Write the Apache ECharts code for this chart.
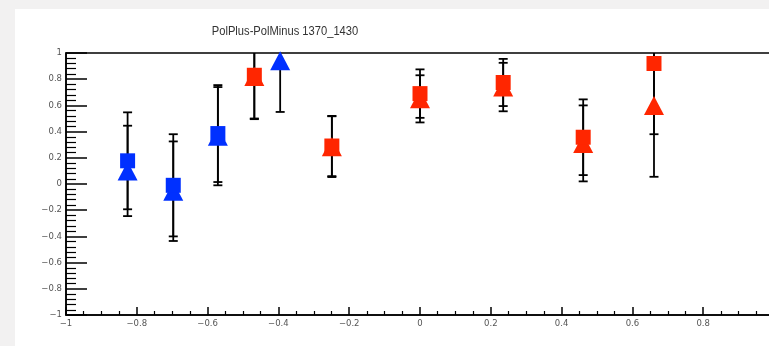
<!DOCTYPE html>
<html>
<head>
<meta charset="utf-8">
<script src="https://cdn.jsdelivr.net/npm/echarts@6/dist/echarts.min.js"></script>
<style>
  html, body { margin: 0; padding: 0; background: #f2f1f1; }
  #chart { width: 769px; height: 346px; }
</style>
</head>
<body>
<div id="chart"></div>
<script>
// Asymmetry per bin, two measurements (squares / triangles), two groups (blue / red)
const blueSquareX = [-0.826, -0.697, -0.571];
const blueSquareY = [0.177, -0.01, 0.385];
const blueSquareErr = [0.37, 0.39, 0.37];

const blueTriangleX = [-0.826, -0.697, -0.571, -0.395];
const blueTriangleY = [0.10, -0.055, 0.365, 0.94];
const blueTriangleErr = [0.345, 0.38, 0.375, 0.39];

const redX = [-0.468, -0.249, 0.0, 0.235, 0.461, 0.661];
const redSquareY = [0.83, 0.29, 0.69, 0.775, 0.357, 0.92];
const redSquareErr = [0.33, 0.23, 0.185, 0.18, 0.289, 0.54];
const redTriangleY = [0.82, 0.285, 0.65, 0.74, 0.31, 0.60];
const redTriangleErr = [0.325, 0.232, 0.18, 0.185, 0.29, 0.545];

const titleText = 'PolPlus-PolMinus 1370_1430';
const axisMin = -1, axisMax = 1, axisStep = 0.2;

const BLUE = '#0030ff';
const RED = '#ff2600';

function points(xs, ys) { return xs.map((x, i) => [x, ys[i]]); }
function bars(xs, ys, es) { return xs.map((x, i) => [x, ys[i] - es[i], ys[i] + es[i]]); }

const allBars = [].concat(
  bars(blueSquareX, blueSquareY, blueSquareErr),
  bars(blueTriangleX, blueTriangleY, blueTriangleErr),
  bars(redX, redSquareY, redSquareErr),
  bars(redX, redTriangleY, redTriangleErr)
);

function fmt(v) {
  const r = Math.round(v * 10) / 10;
  if (r === 0) return '0';
  return (r < 0 ? '\u2212' : '') + String(Math.abs(r));
}

function renderErrorBar(params, api) {
  const x = api.value(0);
  const lo = api.value(1), hi = api.value(2);
  const loC = Math.max(lo, axisMin), hiC = Math.min(hi, axisMax);
  const pLo = api.coord([x, loC]);
  const pHi = api.coord([x, hiC]);
  const half = 4.5;
  const style = { stroke: '#000', lineWidth: 1.8, fill: null };
  const children = [{ type: 'line', shape: { x1: pLo[0], y1: pLo[1], x2: pHi[0], y2: pHi[1] }, style }];
  if (lo >= axisMin) children.push({ type: 'line', shape: { x1: pLo[0] - half, y1: pLo[1], x2: pLo[0] + half, y2: pLo[1] }, style });
  if (hi <= axisMax) children.push({ type: 'line', shape: { x1: pHi[0] - half, y1: pHi[1], x2: pHi[0] + half, y2: pHi[1] }, style });
  return { type: 'group', children };
}

const chart = echarts.init(document.getElementById('chart'), null, { renderer: 'canvas' });

const labelStyle = { color: '#555', fontSize: 8.5, fontFamily: 'DejaVu Sans' };

chart.setOption({
  animation: false,
  backgroundColor: '#f2f1f1',
  graphic: [
    { type: 'rect', z: -10, shape: { x: 15, y: 9, width: 760, height: 340 }, style: { fill: '#ffffff' } },
    {
      type: 'text', x: 285, y: 32, scaleX: 0.93, z: 10,
      style: {
        text: titleText, font: '12px "Liberation Sans", Arial, sans-serif',
        fill: '#333', textAlign: 'center', textVerticalAlign: 'middle'
      }
    }
  ],
  grid: {
    left: 66, top: 53, width: 708, height: 262,
    outerBoundsMode: 'none', containLabel: false,
    show: true, borderColor: '#000', borderWidth: 1.5, backgroundColor: 'transparent'
  },
  xAxis: {
    type: 'value', min: axisMin, max: axisMax, interval: axisStep,
    axisLine: { show: true, onZero: false, lineStyle: { color: '#000', width: 1.5 } },
    axisTick: { show: true, inside: true, length: 8, lineStyle: { color: '#000', width: 1.5 } },
    minorTick: { show: true, splitNumber: 4, length: 4, lineStyle: { color: '#000', width: 1.2 } },
    splitLine: { show: false },
    axisLabel: Object.assign({ margin: 4, formatter: fmt }, labelStyle)
  },
  yAxis: {
    type: 'value', min: axisMin, max: axisMax, interval: axisStep,
    axisLine: { show: true, onZero: false, lineStyle: { color: '#000', width: 1.5 } },
    axisTick: { show: true, inside: true, length: 21, lineStyle: { color: '#000', width: 1.5 } },
    minorTick: { show: true, splitNumber: 5, length: 10, lineStyle: { color: '#000', width: 1.2 } },
    splitLine: { show: false },
    axisLabel: Object.assign({ margin: 4, formatter: fmt }, labelStyle)
  },
  series: [
    {
      type: 'custom', name: 'errors', z: 2, clip: true,
      renderItem: renderErrorBar, data: allBars
    },
    {
      type: 'scatter', name: 'blue triangles', z: 3, clip: true,
      symbol: 'triangle', symbolSize: [20, 19],
      itemStyle: { color: BLUE, opacity: 1 },
      data: points(blueTriangleX, blueTriangleY)
    },
    {
      type: 'scatter', name: 'red triangles', z: 3, clip: true,
      symbol: 'triangle', symbolSize: [20, 19],
      itemStyle: { color: RED, opacity: 1 },
      data: points(redX, redTriangleY)
    },
    {
      type: 'scatter', name: 'blue squares', z: 4, clip: true,
      symbol: 'rect', symbolSize: 15,
      itemStyle: { color: BLUE, opacity: 1 },
      data: points(blueSquareX, blueSquareY)
    },
    {
      type: 'scatter', name: 'red squares', z: 4, clip: true,
      symbol: 'rect', symbolSize: 15,
      itemStyle: { color: RED, opacity: 1 },
      data: points(redX, redSquareY)
    }
  ]
});
</script>
</body>
</html>
